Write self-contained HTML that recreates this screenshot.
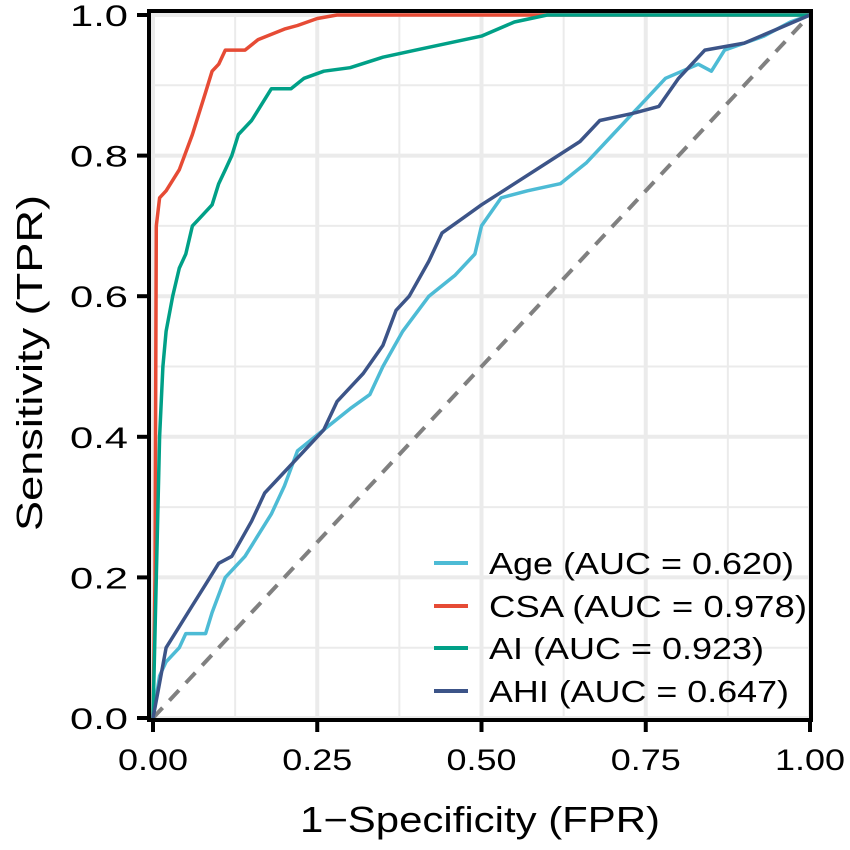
<!DOCTYPE html>
<html><head><meta charset="utf-8"><style>
body{margin:0;background:#fff}
svg text{font-family:"Liberation Sans",Arial,sans-serif;fill:#000}
</style></head><body>
<svg id="chart" width="850" height="845">
<g id="grid"></g>
<g id="series"></g>
<rect x="149" y="11" width="662" height="709" fill="none" stroke="#000" stroke-width="4"/>
<g id="axes"></g>
<text x="480" y="832" font-size="36" text-anchor="middle" textLength="360" lengthAdjust="spacingAndGlyphs">1−Specificity (FPR)</text>
<text transform="translate(42,363) rotate(-90)" font-size="36" text-anchor="middle" textLength="336" lengthAdjust="spacingAndGlyphs">Sensitivity (TPR)</text>
<g id="legend"></g>
</svg>
<script>
const xTicks=[0,0.25,0.5,0.75,1];
const xTickLabels=["0.00","0.25","0.50","0.75","1.00"];
const yTicks=[0,0.2,0.4,0.6,0.8,1];
const yTickLabels=["0.0","0.2","0.4","0.6","0.8","1.0"];
const seriesNames=["Age (AUC = 0.620)","CSA (AUC = 0.978)","AI (AUC = 0.923)","AHI (AUC = 0.647)"];
const seriesColors=["#4DBBD5","#E64B35","#00A087","#3C5488"];
const ageFPR=[0,0.01,0.02,0.04,0.05,0.08,0.09,0.11,0.14,0.18,0.2,0.22,0.26,0.3,0.33,0.35,0.38,0.42,0.46,0.49,0.5,0.53,0.57,0.62,0.66,0.7,0.75,0.78,0.83,0.85,0.87,0.93,0.97,1];
const ageTPR=[0,0.06,0.08,0.1,0.12,0.12,0.15,0.2,0.23,0.29,0.33,0.38,0.41,0.44,0.46,0.5,0.55,0.6,0.63,0.66,0.7,0.74,0.75,0.76,0.79,0.83,0.88,0.91,0.93,0.92,0.95,0.97,0.99,1];
const csaFPR=[0,0.003,0.005,0.01,0.02,0.04,0.06,0.07,0.08,0.09,0.1,0.11,0.14,0.16,0.2,0.22,0.25,0.28,1];
const csaTPR=[0,0.2,0.7,0.74,0.75,0.78,0.83,0.86,0.89,0.92,0.93,0.95,0.95,0.965,0.98,0.985,0.995,1,1];
const aiFPR=[0,0.005,0.01,0.015,0.02,0.03,0.04,0.05,0.06,0.07,0.09,0.1,0.11,0.12,0.13,0.15,0.17,0.18,0.21,0.23,0.26,0.3,0.35,0.4,0.45,0.5,0.55,0.6,1];
const aiTPR=[0,0.2,0.4,0.5,0.55,0.6,0.64,0.66,0.7,0.71,0.73,0.76,0.78,0.8,0.83,0.85,0.88,0.895,0.895,0.91,0.92,0.925,0.94,0.95,0.96,0.97,0.99,1,1];
const ahiFPR=[0,0.01,0.02,0.04,0.06,0.08,0.1,0.12,0.15,0.17,0.19,0.23,0.26,0.28,0.32,0.35,0.37,0.39,0.42,0.44,0.47,0.5,0.55,0.6,0.65,0.68,0.73,0.77,0.8,0.84,0.9,0.95,1];
const ahiTPR=[0,0.05,0.1,0.13,0.16,0.19,0.22,0.23,0.28,0.32,0.34,0.38,0.41,0.45,0.49,0.53,0.58,0.6,0.65,0.69,0.71,0.73,0.76,0.79,0.82,0.85,0.86,0.87,0.91,0.95,0.96,0.98,1];

const NS="http://www.w3.org/2000/svg";
const X0=153,X1=810,Y0=718,Y1=15;
const sx=v=>X0+v*(X1-X0), sy=v=>Y0-v*(Y0-Y1);
function mk(tag,attrs,parent){const e=document.createElementNS(NS,tag);for(const k in attrs)e.setAttribute(k,attrs[k]);parent.appendChild(e);return e;}
const grid=document.getElementById('grid'),axes=document.getElementById('axes'),ser=document.getElementById('series'),leg=document.getElementById('legend');
mk('rect',{x:149,y:11,width:662,height:709,fill:'#fff'},grid);
[0.125,0.375,0.625,0.875].forEach(v=>{const l=mk('line',{x1:sx(v),x2:sx(v),y1:11,y2:720,stroke:'#ebebeb','stroke-width':2},grid);});
[0.1,0.3,0.5,0.7,0.9].forEach(v=>{const l=mk('line',{x1:149,x2:811,y1:sy(v),y2:sy(v),stroke:'#ebebeb','stroke-width':2},grid);});
xTicks.forEach((v,i)=>{
 const g=mk('line',{x1:sx(v),x2:sx(v),y1:11,y2:720,stroke:'#ebebeb','stroke-width':4},grid);
 
 const t=mk('line',{x1:sx(v),x2:sx(v),y1:720,y2:732,stroke:'#000','stroke-width':4},axes);
 
 const tx=mk('text',{x:sx(v),y:770,'font-size':30,'text-anchor':'middle',textLength:70,lengthAdjust:'spacingAndGlyphs'},axes);tx.textContent=xTickLabels[i];
 
});
yTicks.forEach((v,i)=>{
 const g=mk('line',{x1:149,x2:811,y1:sy(v),y2:sy(v),stroke:'#ebebeb','stroke-width':4},grid);
 
 const t=mk('line',{x1:137,x2:149,y1:sy(v),y2:sy(v),stroke:'#000','stroke-width':4},axes);
 
 const tx=mk('text',{x:128,y:sy(v)+11,'font-size':30,'text-anchor':'end',textLength:58,lengthAdjust:'spacingAndGlyphs'},axes);tx.textContent=yTickLabels[i];
 
});
const d=mk('line',{x1:sx(0),y1:sy(0),x2:sx(1),y2:sy(1),stroke:'#808080','stroke-width':4,'stroke-dasharray':'14,10'},ser);

const data=[[ageFPR,ageTPR],[csaFPR,csaTPR],[aiFPR,aiTPR],[ahiFPR,ahiTPR]];
const ids=['age-roc-line','csa-roc-line','ai-roc-line','ahi-roc-line'];
data.forEach((s,k)=>{
 const pts=s[0].map((v,i)=>sx(v).toFixed(1)+','+sy(s[1][i]).toFixed(1)).join(' ');
 const p=mk('polyline',{points:pts,fill:'none',stroke:seriesColors[k],'stroke-width':3.5,'stroke-linejoin':'round'},ser);
 
});
const ly=[563,606,648,691];
const lw=[305,318,275,300];
seriesNames.forEach((n,k)=>{
 const l=mk('line',{x1:434,x2:468,y1:ly[k],y2:ly[k],stroke:seriesColors[k],'stroke-width':4},leg);
 
 const t=mk('text',{x:489,y:ly[k]+11,'font-size':31,textLength:lw[k],lengthAdjust:'spacingAndGlyphs'},leg);t.textContent=n;
 
});
</script>
</body></html>
